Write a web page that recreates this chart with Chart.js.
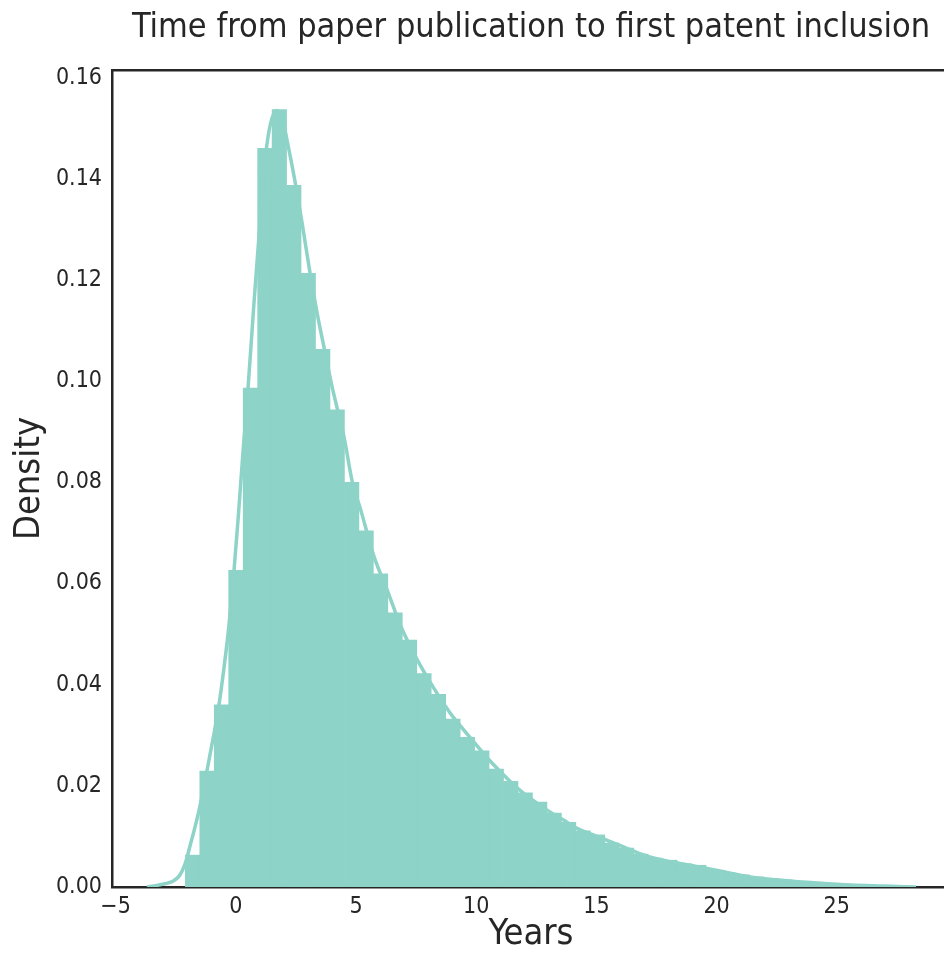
<!DOCTYPE html>
<html>
<head>
<meta charset="utf-8">
<script src="https://cdn.jsdelivr.net/npm/chart.js@4/dist/chart.umd.min.js"></script>
<style>
  html, body { margin: 0; padding: 0; background: #fff; }
  #wrap { width: 944px; height: 953px; overflow: hidden; position: relative; }
  canvas { display: block; }
</style>
</head>
<body>
<div id="wrap"><canvas id="chart" width="1062" height="953"></canvas></div>
<script>
// Histogram bins (bin centres, years) and their density
const binCenters = [
  -1.799, -1.197, -0.596, 0.006, 0.608, 1.210, 1.811, 2.413, 3.015, 3.616,
  4.218, 4.820, 5.421, 6.023, 6.625, 7.227, 7.828, 8.430, 9.032, 9.633,
  10.235, 10.837, 11.438, 12.040, 12.642, 13.244, 13.845, 14.447, 15.049, 15.650,
  16.252, 16.854, 17.455, 18.057, 18.659, 19.261, 19.862, 20.464, 21.066, 21.667,
  22.269, 22.871, 23.472, 24.074, 24.676, 25.278, 25.879, 26.481, 27.083, 27.684
];
const binDensity = [
  0.0063, 0.0229, 0.0360, 0.0626, 0.0986, 0.1460, 0.1537, 0.1387, 0.1213, 0.1063,
  0.0943, 0.0800, 0.0704, 0.0619, 0.0542, 0.0488, 0.0422, 0.0381, 0.0332, 0.0296,
  0.0269, 0.0233, 0.0209, 0.0186, 0.0168, 0.0146, 0.0128, 0.0111, 0.0103, 0.0087,
  0.0077, 0.0065, 0.0057, 0.0053, 0.0046, 0.0043, 0.0033, 0.0028, 0.0024, 0.0020,
  0.0017, 0.0014, 0.0011, 0.0009, 0.0007, 0.0005, 0.0004, 0.0003, 0.0002, 0.0001
];

// KDE curve
const kdeX = [
  -3.7, -3.3, -2.9, -2.6, -2.35, -2.2, -2.05, -1.9, -1.7, -1.5,
  -1.3, -1.1, -0.9, -0.7, -0.5, -0.3, -0.1, 0.1, 0.3, 0.5,
  0.75, 1.0, 1.25, 1.45, 1.7, 1.95, 2.2, 2.5, 2.8, 3.1,
  3.4, 3.7, 4.0, 4.25, 4.5, 4.85, 5.2, 5.75, 6.3, 6.85,
  7.55, 8.25, 8.9, 9.35, 9.95, 10.6, 11.3, 11.85, 12.4, 12.95,
  13.65, 14.2, 15.2, 16.0, 17.1, 18.2, 19.35, 20.1, 21.4, 22.8,
  24.2, 25.6, 27.0, 28.3
];
const kdeY = [
  0.0000, 0.0003, 0.0007, 0.0012, 0.0022, 0.0035, 0.0055, 0.0082, 0.0118, 0.0158,
  0.0205, 0.0255, 0.0305, 0.0360, 0.0430, 0.0510, 0.0610, 0.0730, 0.0860, 0.0980,
  0.1150, 0.1310, 0.1450, 0.1510, 0.1535, 0.1515, 0.1460, 0.1385, 0.1300, 0.1210,
  0.1130, 0.1060, 0.0990, 0.0940, 0.0890, 0.0800, 0.0745, 0.0653, 0.0587, 0.0517,
  0.0449, 0.0392, 0.0345, 0.0318, 0.0284, 0.0248, 0.0214, 0.0190, 0.0170, 0.0152,
  0.0132, 0.0116, 0.0097, 0.0082, 0.0061, 0.0049, 0.0039, 0.0032, 0.0020, 0.0013,
  0.0008, 0.0004, 0.0002, 0.0000
];

const xTickLabels = [-5, 0, 5, 10, 15, 20, 25];

const teal = "#8dd3c7";
const ink = "#262626";
const fontFamily = '"DejaVu Sans Condensed", "Liberation Sans Narrow", Roboto, sans-serif';

const hidden = { display: false };

new Chart(document.getElementById("chart").getContext("2d"), {
	data: {
		datasets: [
			{
				type: "line",
				order: 0,
				data: kdeX.map((x, i) => ({ x: x, y: kdeY[i] })),
				borderColor: teal,
				borderWidth: 3.5,
				pointRadius: 0,
				cubicInterpolationMode: "monotone",
				fill: false,
				xAxisID: "x",
				yAxisID: "y",
			},
			{
				type: "bar",
				order: 1,
				data: binCenters.map((x, i) => ({ x: x, y: binDensity[i] })),
				backgroundColor: teal,
				borderWidth: 0,
				barPercentage: 1,
				categoryPercentage: 1,
				grouped: false,
				xAxisID: "x",
				yAxisID: "y",
			},
		],
	},
	options: {
		responsive: false,
		animation: false,
		layout: { padding: 0 },
		plugins: {
			legend: hidden,
			tooltip: { enabled: false },
			title: {
				display: true,
				text: "Time from paper publication to first patent inclusion",
				color: ink,
				font: { family: fontFamily, size: 34, weight: "normal", lineHeight: 1.2 },
				padding: { top: 8, bottom: 21.2 },
			},
		},
		scales: {
			x: {
				type: "linear",
				position: "bottom",
				offset: false,
				min: -5.15,
				max: 29.71,
				grid: { display: false, drawTicks: false, offset: false },
				border: { display: true, color: ink, width: 2.5 },
				ticks: {
					stepSize: 5,
					includeBounds: false,
					color: ink,
					padding: 6,
					font: { family: fontFamily, size: 23 },
					callback: (v) => (xTickLabels.includes(v) ? (v < 0 ? "\u2212" + Math.abs(v) : String(v)) : null),
				},
				title: {
					display: true,
					text: "Years",
					color: ink,
					font: { family: fontFamily, size: 36, lineHeight: 1 },
					padding: { top: 0, bottom: 0 },
				},
				afterFit: (s) => { s.height = 66; },
			},
			x2: {
				type: "linear",
				position: "top",
				offset: false,
				min: -5.15,
				max: 29.71,
				grid: { display: false, drawTicks: false },
				border: { display: true, color: ink, width: 2.5 },
				ticks: hidden,
				afterFit: (s) => { s.height = 0; },
			},
			y: {
				type: "linear",
				position: "left",
				min: 0,
				max: 0.1615,
				grid: { display: false, drawTicks: false },
				border: { display: true, color: ink, width: 2.5 },
				ticks: {
					stepSize: 0.02,
					includeBounds: false,
					color: ink,
					padding: 10,
					font: { family: fontFamily, size: 23 },
					callback: (v) => v.toFixed(2),
				},
				title: {
					display: true,
					text: "Density",
					color: ink,
					font: { family: fontFamily, size: 36, lineHeight: 1 },
					padding: { top: 12, bottom: 0 },
				},
				afterFit: (s) => { s.width = 112; },
			},
			y2: {
				type: "linear",
				position: "right",
				grid: { display: false, drawTicks: false },
				border: { display: false },
				ticks: hidden,
				afterFit: (s) => { s.width = 112; },
			},
		},
	},
});
</script>
</body>
</html>
